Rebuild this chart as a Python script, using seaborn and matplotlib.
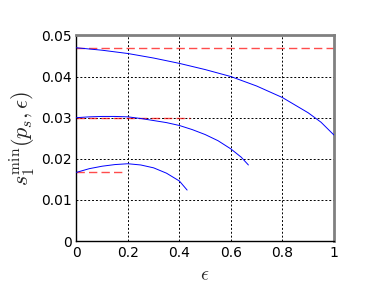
import matplotlib
matplotlib.use("Agg")
import matplotlib.pyplot as plt
import seaborn as sns
import pandas as pd
from matplotlib.ticker import MultipleLocator, FuncFormatter

# Data
eps_a = [0.0, 0.1, 0.2, 0.3, 0.4, 0.5, 0.6, 0.7, 0.8, 0.9, 0.95, 1.0]
s_a = [0.0470, 0.0464, 0.0456, 0.0445, 0.0432, 0.0417, 0.0400, 0.0377, 0.0349, 0.0312, 0.0289, 0.0258]

eps_b = [0.0, 0.05, 0.1, 0.15, 0.2, 0.25, 0.3, 0.35, 0.4, 0.45, 0.5, 0.55, 0.6, 0.64, 0.668]
s_b = [0.0300, 0.0302, 0.0303, 0.0303, 0.0302, 0.0298, 0.0293, 0.0288, 0.0281, 0.0271, 0.0259, 0.0244, 0.0224, 0.0204, 0.0185]

eps_c = [0.0, 0.05, 0.1, 0.15, 0.2, 0.25, 0.3, 0.35, 0.4, 0.43]
s_c = [0.0167, 0.0176, 0.0182, 0.0186, 0.0188, 0.0185, 0.0178, 0.0165, 0.0146, 0.0124]

ref_levels = [0.0470, 0.0300, 0.0167]
ref_ends = [1.0, 0.443, 0.186]

sns.set_style("white")
plt.rcParams["mathtext.fontset"] = "cm"
plt.rcParams["font.family"] = ["DejaVu Sans"]

fig = plt.figure(figsize=(3.82, 2.88), dpi=100)
ax = fig.add_axes([0.2, 0.163, 0.674, 0.714])

frames = []
for name, e, s in [("a", eps_a, s_a), ("b", eps_b, s_b), ("c", eps_c, s_c)]:
    frames.append(pd.DataFrame({"eps": e, "s": s, "curve": name}))
df = pd.concat(frames)

for lvl, end in zip(ref_levels, ref_ends):
    ax.plot([0, end], [lvl, lvl], color="red", alpha=0.7, lw=1.0, dashes=(6, 3), zorder=2)

sns.lineplot(data=df, x="eps", y="s", units="curve", estimator=None, color="blue",
             lw=0.7, ax=ax, sort=False, zorder=3)

ax.set_xlim(0, 1)
ax.set_ylim(0, 0.05)
ax.xaxis.set_major_locator(MultipleLocator(0.2))
ax.xaxis.set_minor_locator(MultipleLocator(0.1))
ax.yaxis.set_major_locator(MultipleLocator(0.01))
ax.yaxis.set_minor_locator(MultipleLocator(0.005))
fmt = FuncFormatter(lambda v, p: "%g" % round(v, 6))
ax.xaxis.set_major_formatter(fmt)
ax.yaxis.set_major_formatter(fmt)
ax.tick_params(which="both", direction="in", top=False, right=False, labelsize=10, colors="black")
ax.tick_params(which="major", length=4, width=0.8)
ax.tick_params(which="minor", length=2, width=0.8)

ax.grid(True, which="major", color="black", linestyle=(0, (2, 2)), lw=0.7)

for side in ["left", "bottom"]:
    ax.spines[side].set_color("black")
    ax.spines[side].set_linewidth(1.0)
for side in ["top", "right"]:
    ax.spines[side].set_color("gray")
    ax.spines[side].set_linewidth(2.0)

ax.set_xlabel(r"$\epsilon$", fontsize=14)
ax.set_ylabel(r"$s_1^{\min}(p_s,\epsilon)$", fontsize=16, labelpad=2)

fig.savefig("out.png", dpi=100)
